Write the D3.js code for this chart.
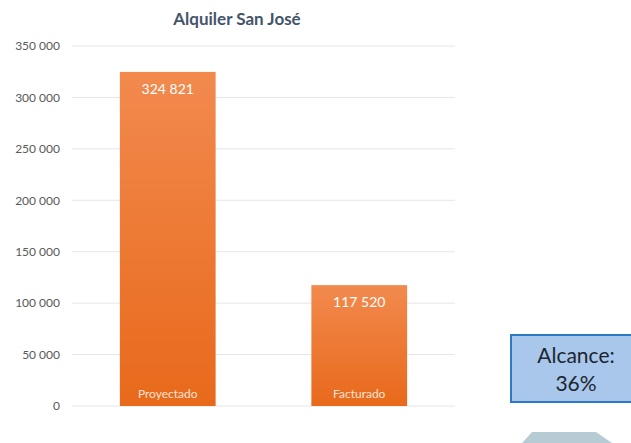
<!DOCTYPE html>
<html>
<head>
<meta charset="utf-8">
<script src="https://cdn.jsdelivr.net/npm/d3@7"></script>
<style>
	body { margin: 0; background: #fff; }
	svg { display: block; font-family: Lato, "Open Sans", sans-serif; }
</style>
</head>
<body>
<div id="chart"></div>
<script>
(function() {
	"use strict";

	var categories = ['Proyectado', 'Facturado'];
	var values = [324821, 117520];
	var yTicks = [0, 50000, 100000, 150000, 200000, 250000, 300000, 350000];
	var title = 'Alquiler San José';
	var badgeLines = ['Alcance:', '36%'];

	var width = 631, height = 443;
	var fmt = function (v) { return d3.format(',')(v).replace(/,/g, ' '); };

	var svg = d3.select('#chart')
		.append('svg')
		.attr('width', width)
		.attr('height', height);

	var grad = svg.append('defs').append('linearGradient')
		.attr('id', 'barGrad')
		.attr('x1', 0).attr('y1', 0).attr('x2', 0).attr('y2', 1);
	grad.append('stop').attr('offset', '0%').attr('stop-color', '#f28a4e');
	grad.append('stop').attr('offset', '100%').attr('stop-color', '#e8691b');

	var x = d3.scaleBand()
		.domain(categories)
		.range([72, 455])
		.padding(0);
	var barWidth = x.bandwidth() * 0.5;
	var cx = function (d) { return x(d) + x.bandwidth() / 2; };

	var y = d3.scaleLinear()
		.domain([0, 350000])
		.range([406, 46]);

	// gridlines
	svg.append('g')
		.selectAll('line')
		.data(yTicks)
		.join('line')
		.attr('x1', 72).attr('x2', 455)
		.attr('y1', function (d) { return y(d); })
		.attr('y2', function (d) { return y(d); })
		.attr('stroke', '#e6e6e6')
		.attr('stroke-width', 1);

	// y axis labels
	var yAxis = svg.append('g')
		.attr('transform', 'translate(60,0)')
		.call(d3.axisLeft(y).tickValues(yTicks).tickSize(0).tickPadding(0).tickFormat(fmt));
	yAxis.select('.domain').remove();
	yAxis.selectAll('text')
		.attr('fill', '#595959')
		.style('font-size', '12px')
		.style('font-family', 'Lato, "Open Sans", sans-serif');

	// bars
	var bars = svg.append('g')
		.selectAll('g')
		.data(categories)
		.join('g');

	bars.append('rect')
		.attr('x', function (d) { return cx(d) - barWidth / 2; })
		.attr('width', barWidth)
		.attr('y', function (d, i) { return y(values[i]); })
		.attr('height', function (d, i) { return y(0) - y(values[i]); })
		.attr('fill', 'url(#barGrad)');

	bars.append('text')
		.attr('x', cx)
		.attr('y', function (d, i) { return y(values[i]) + 22; })
		.attr('text-anchor', 'middle')
		.attr('fill', '#fff')
		.style('font-size', '14px')
		.text(function (d, i) { return fmt(values[i]); });

	bars.append('text')
		.attr('x', cx)
		.attr('y', y(0) - 8)
		.attr('text-anchor', 'middle')
		.attr('fill', '#fbe3d3')
		.style('font-size', '12px')
		.text(function (d) { return d; });

	// title
	svg.append('text')
		.attr('x', 237).attr('y', 25)
		.attr('text-anchor', 'middle')
		.attr('fill', '#44546a')
		.style('font-size', '17px')
		.style('font-weight', 'bold')
		.text(title);

	// badge
	svg.append('rect')
		.attr('x', 511).attr('y', 335)
		.attr('width', 130).attr('height', 67)
		.attr('fill', '#a9c7ea')
		.attr('stroke', '#2f78c4')
		.attr('stroke-width', 2);

	svg.append('g')
		.selectAll('text')
		.data(badgeLines)
		.join('text')
		.attr('x', 576)
		.attr('y', function (d, i) { return 363 + i * 28; })
		.attr('text-anchor', 'middle')
		.attr('fill', '#1c2530')
		.style('font-size', '21px')
		.text(function (d) { return d; });

	// decorative shape at bottom
	svg.append('path')
		.attr('d', 'M532,432 L596,432 L612,443 L522,443 Z')
		.attr('fill', '#b7cbd5');
}());
</script>
</body>
</html>
